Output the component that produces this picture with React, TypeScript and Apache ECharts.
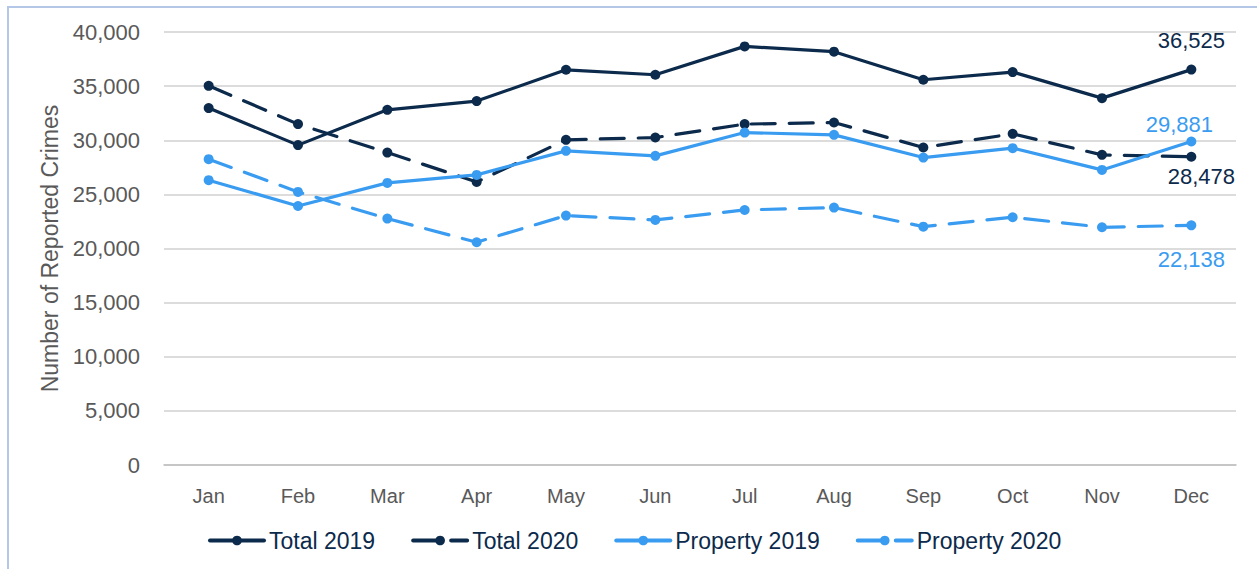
import React, { useEffect, useRef } from "react";
import * as echarts from "echarts";

const months = ["Jan", "Feb", "Mar", "Apr", "May", "Jun", "Jul", "Aug", "Sep", "Oct", "Nov", "Dec"];
const total2019 = [32970, 29550, 32810, 33620, 36510, 36050, 38670, 38180, 35590, 36300, 33890, 36525];
const total2020 = [35030, 31490, 28860, 26150, 30040, 30250, 31490, 31640, 29330, 30590, 28650, 28478];
const property2019 = [26310, 23930, 26060, 26800, 29020, 28560, 30710, 30500, 28400, 29270, 27260, 29881];
const property2020 = [28250, 25230, 22760, 20580, 23040, 22640, 23560, 23780, 22020, 22890, 21960, 22138];
const yTicks = { min: 0, max: 40000, interval: 5000 };

const DARK = "#0c2a4b";
const LIGHT = "#3a9cf0";

const fmt = (v: number) => v.toLocaleString("en-US");

function makeSeries(
  name: string,
  values: number[],
  color: string,
  dashed: boolean,
  label: any
) {
  const data = values.map((v, i) =>
    i === values.length - 1 ? { value: v, label: { show: true, ...label } } : v
  );
  return {
    name,
    type: "line",
    data,
    symbol: "circle",
    symbolSize: 10,
    showSymbol: true,
    lineStyle: {
      color,
      width: 3.2,
      type: dashed ? [24, 14] : "solid",
      cap: "round",
    },
    itemStyle: { color },
    label: {
      show: false,
      color,
      fontSize: 22,
      fontFamily: "Liberation Sans, Arial, sans-serif",
      formatter: (p: any) => fmt(p.value),
    },
    emphasis: { disabled: true },
  };
}

export default function App() {
  const ref = useRef<HTMLDivElement>(null);

  useEffect(() => {
    if (!ref.current) return;
    const chart = echarts.init(ref.current, undefined, { renderer: "svg" });
    const font = "Liberation Sans, Arial, sans-serif";
    chart.setOption({
      animation: false,
      backgroundColor: "#ffffff",
      textStyle: { fontFamily: font },
      grid: { left: 164, right: 21, top: 32, bottom: 104, containLabel: false },
      legend: {
        left: 208,
        top: 529,
        padding: 0,
        itemWidth: 54,
        itemHeight: 12,
        itemGap: 36,
        lineStyle: { width: 4 },
        textStyle: { color: DARK, fontSize: 23, fontFamily: font },
        data: ["Total 2019", "Total 2020", "Property 2019", "Property 2020"],
      },
      xAxis: {
        type: "category",
        data: months,
        boundaryGap: true,
        axisLine: { show: true, lineStyle: { color: "#bfbfbf", width: 1.5 } },
        axisTick: { show: false },
        axisLabel: { color: "#595959", fontSize: 20, margin: 21, fontFamily: font },
        splitLine: { show: false },
      },
      yAxis: {
        type: "value",
        min: yTicks.min,
        max: yTicks.max,
        interval: yTicks.interval,
        name: "Number of Reported Crimes",
        nameLocation: "middle",
        nameGap: 103,
        nameTextStyle: { color: "#595959", fontSize: 23, fontFamily: font },
        axisLine: { show: false },
        axisTick: { show: false },
        axisLabel: {
          color: "#595959",
          fontSize: 22,
          margin: 24,
          fontFamily: font,
          formatter: (v: number) => fmt(v),
        },
        splitLine: { lineStyle: { color: "#d0d0d0", width: 1.5 } },
      },
      graphic: [
        {
          type: "rect",
          silent: true,
          shape: { x: 8, y: 7, width: 1300, height: 600 },
          style: { fill: "none", stroke: "#b4c7e7", lineWidth: 2 },
          z: -1,
        },
      ],
      series: [
        makeSeries("Total 2019", total2019, DARK, false, {
          position: "top",
          distance: 13,
        }),
        makeSeries("Total 2020", total2020, DARK, true, {
          position: "bottom",
          distance: 4,
          offset: [10, 0],
        }),
        makeSeries("Property 2019", property2019, LIGHT, false, {
          position: "top",
          distance: 1,
          offset: [-12, 0],
        }),
        makeSeries("Property 2020", property2020, LIGHT, true, {
          position: "bottom",
          distance: 18,
        }),
      ],
    });
    return () => chart.dispose();
  }, []);

  return (
    <div
      ref={ref}
      style={{ position: "fixed", left: 0, top: 0, width: 1257, height: 569 }}
    />
  );
}
